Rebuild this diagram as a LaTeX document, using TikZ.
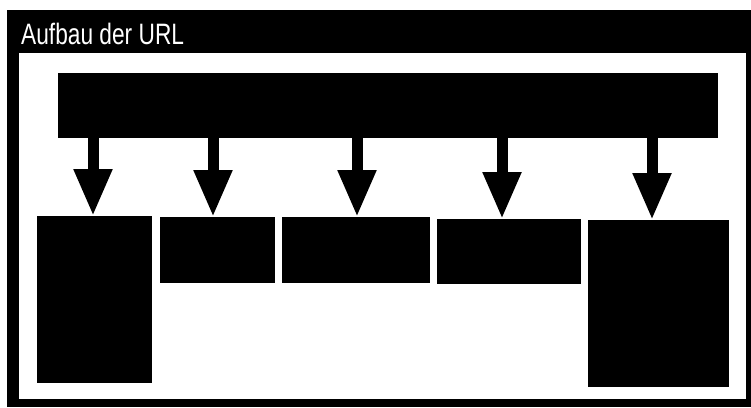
\documentclass[tikz,border=0pt]{standalone}
\usepackage{fontspec}
\setmainfont{Liberation Sans}
\usetikzlibrary{arrows.meta}
\begin{document}
\begin{tikzpicture}[x=1pt,y=-1pt,
  blk/.style={fill=black,draw=none,inner sep=0pt,anchor=north west},
  arr/.style={draw=black,line width=11pt,-{Triangle[width=36pt,length=47pt]}}]
\useasboundingbox (0,0) rectangle (751,407);
% frame
\fill[black] (7,10) rectangle (751,407);
\fill[white] (19,53) rectangle (746,399);
\node[anchor=base west,text=white,inner sep=0pt,font=\fontsize{29.5}{34}\selectfont] (title) at (21,44) {\scalebox{0.77}[1]{Aufbau der URL}};
% top bar
\node[blk,minimum width=660pt,minimum height=65pt] (bar) at (58,73) {};
% boxes
\node[blk,minimum width=115pt,minimum height=167pt] (b1) at (37,216) {};
\node[blk,minimum width=115pt,minimum height=66pt] (b2) at (160,217) {};
\node[blk,minimum width=148pt,minimum height=66pt] (b3) at (282,217) {};
\node[blk,minimum width=144pt,minimum height=65pt] (b4) at (437,219) {};
\node[blk,minimum width=141pt,minimum height=167pt] (b5) at (588,220) {};
% arrows
\draw[arr] (bar.south -| 93,0) -- (b1.north -| 93,0);
\draw[arr] (bar.south -| 213,0) -- (b2.north -| 213,0);
\draw[arr] (bar.south -| 357,0) -- (b3.north -| 357,0);
\draw[arr] (bar.south -| 502,0) -- (b4.north -| 502,0);
\draw[arr] (bar.south -| 652,0) -- (b5.north -| 652,0);
\end{tikzpicture}
\end{document}
